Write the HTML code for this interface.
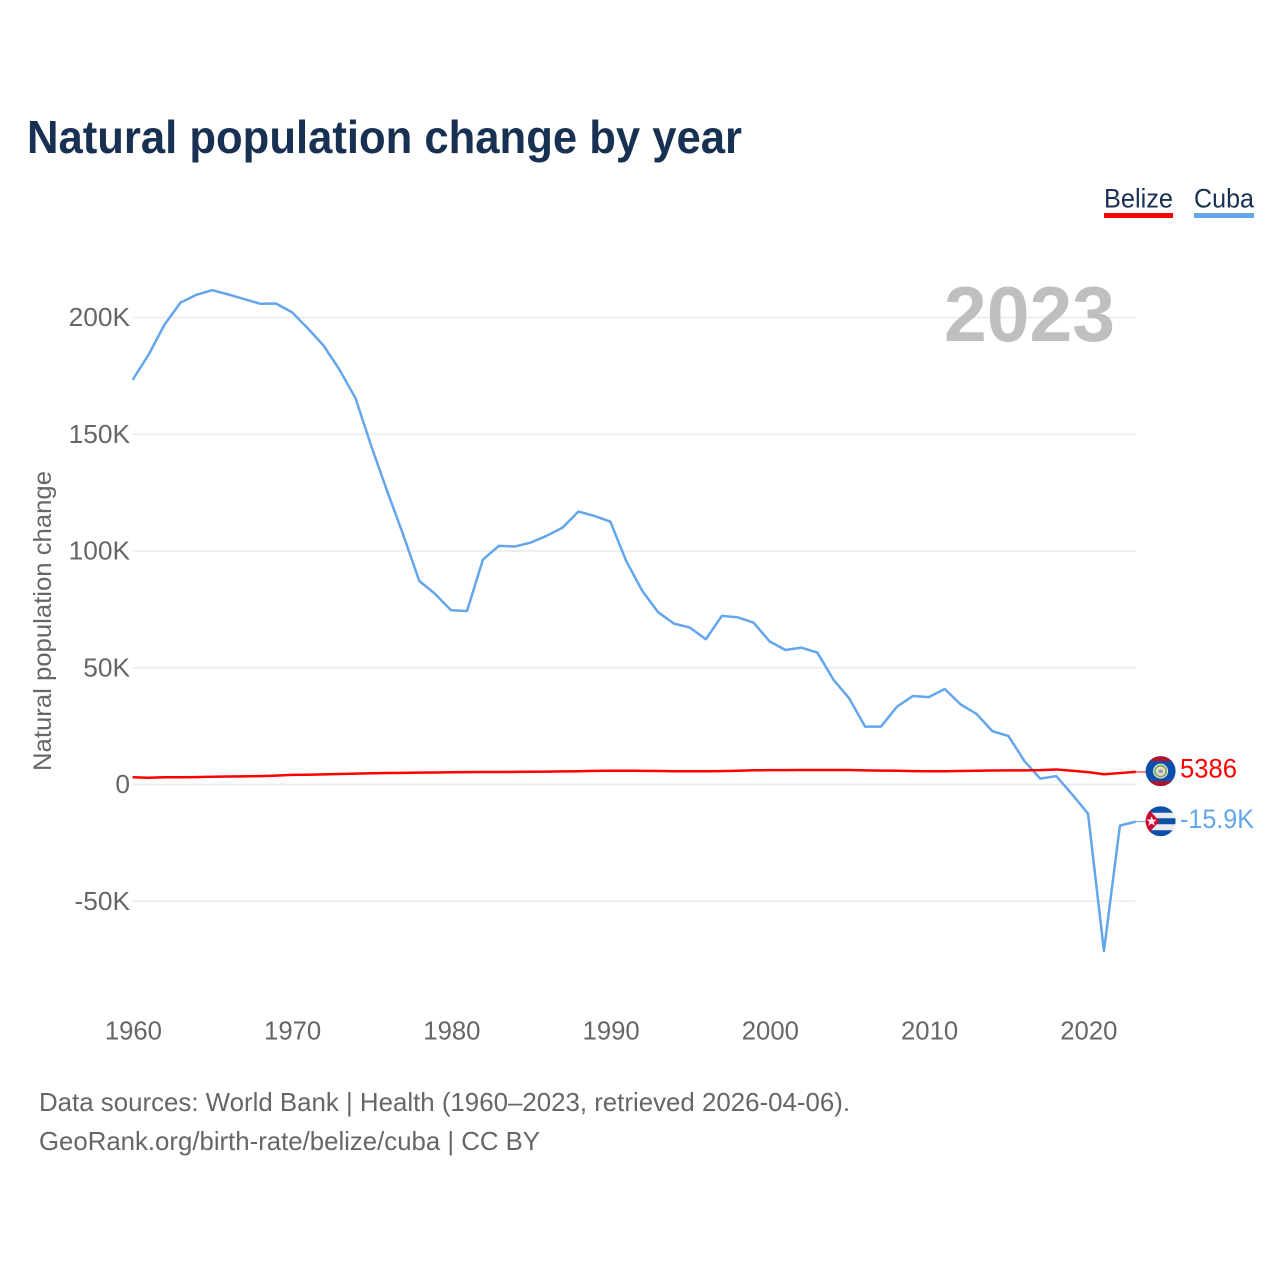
<!DOCTYPE html>
<html lang="en">
<head>
<meta charset="utf-8">
<title>Natural population change by year</title>
<style>
html,body{margin:0;padding:0;background:#fff;width:1280px;height:1280px;overflow:hidden}
svg{display:block}
text{font-family:"Liberation Sans",sans-serif}
</style>
</head>
<body>
<svg id="chart" width="1280" height="1280" viewBox="0 0 1280 1280" xmlns="http://www.w3.org/2000/svg">
  <text x="27" y="153" font-size="46" font-weight="700" fill="#183153" textLength="715" lengthAdjust="spacingAndGlyphs">Natural population change by year</text>
  <text x="1104" y="207.5" font-size="26.5" fill="#183153" textLength="69" lengthAdjust="spacingAndGlyphs">Belize</text>
  <rect x="1104" y="213" width="69" height="5" fill="#ff0000"/>
  <text x="1194" y="207.5" font-size="26.5" fill="#183153" textLength="60" lengthAdjust="spacingAndGlyphs">Cuba</text>
  <rect x="1194" y="213" width="60" height="5" fill="#63a6ec"/>
  <text transform="translate(51,771) rotate(-90)" font-size="25" fill="#666666" textLength="300" lengthAdjust="spacingAndGlyphs">Natural population change</text>
  <g id="grid"></g>
  <g id="yticks"></g>
  <g id="xticks"></g>
  <text x="1115" y="341" text-anchor="end" font-size="78" font-weight="700" fill="#bfbfbf" textLength="171" lengthAdjust="spacingAndGlyphs">2023</text>
  <g id="series"></g>
  <g id="flag-belize">
    <clipPath id="clip-belize"><circle cx="0" cy="0" r="15"/></clipPath>
    <g clip-path="url(#clip-belize)">
      <rect x="-15" y="-15" width="30" height="30" fill="#0a50a8"/>
      <rect x="-15" y="-15" width="30" height="5" fill="#b0132f"/>
      <rect x="-15" y="10" width="30" height="5" fill="#b0132f"/>
    </g>
    <circle cx="0" cy="0" r="7.5" fill="#e8e8e0"/>
    <circle cx="0" cy="0" r="5.5" fill="none" stroke="#7fa65a" stroke-width="1.8"/>
    <circle cx="0" cy="0" r="3" fill="#e8c9a0"/>
    <rect x="-2" y="-1" width="4" height="2.4" fill="#6f9bc9"/>
  </g>
  <g id="flag-cuba">
    <clipPath id="clip-cuba"><circle cx="0" cy="0" r="15"/></clipPath>
    <g clip-path="url(#clip-cuba)">
      <rect x="-15" y="-15" width="30" height="30" fill="#e9e9ee"/>
      <rect x="-15" y="-15" width="30" height="6.5" fill="#0a50a8"/>
      <rect x="-15" y="-3" width="30" height="6" fill="#0a50a8"/>
      <rect x="-15" y="9" width="30" height="6" fill="#0a50a8"/>
      <polygon points="-15,-15 -15,15 -1,0" fill="#d0062f"/>
      <polygon points="-9,-5 -7.6,-1.6 -4,-1.6 -6.8,0.8 -5.8,4.4 -9,2.4 -12.2,4.4 -11.2,0.8 -14,-1.6 -10.4,-1.6" fill="#f2f2f2"/>
    </g>
  </g>
  <text id="value-belize" x="1180" font-size="26.5" fill="#ff0000" textLength="57" lengthAdjust="spacingAndGlyphs">5386</text>
  <text id="value-cuba" x="1180" font-size="26.5" fill="#63a6ec" textLength="74" lengthAdjust="spacingAndGlyphs">-15.9K</text>
  <text x="39" y="1111" font-size="26" fill="#666666" textLength="811" lengthAdjust="spacingAndGlyphs">Data sources: World Bank | Health (1960–2023, retrieved 2026-04-06).</text>
  <text x="39" y="1150" font-size="26" fill="#666666" textLength="501" lengthAdjust="spacingAndGlyphs">GeoRank.org/birth-rate/belize/cuba | CC BY</text>
</svg>
<script>
const years = [1960,1961,1962,1963,1964,1965,1966,1967,1968,1969,1970,1971,1972,1973,1974,1975,1976,1977,1978,1979,1980,1981,1982,1983,1984,1985,1986,1987,1988,1989,1990,1991,1992,1993,1994,1995,1996,1997,1998,1999,2000,2001,2002,2003,2004,2005,2006,2007,2008,2009,2010,2011,2012,2013,2014,2015,2016,2017,2018,2019,2020,2021,2022,2023];
const cubaValues = [173300,184000,196900,206300,209700,211700,209900,207900,205900,206000,202300,195400,187900,177600,165400,144700,125400,106900,87200,81600,74600,74300,96300,102200,101900,103600,106500,110000,116900,115000,112600,95700,83000,73800,68900,67200,62200,72200,71600,69300,61300,57600,58600,56500,45000,36900,24800,24800,33300,37900,37400,40900,34300,30200,22800,20800,10100,2500,3600,-4200,-12500,-71300,-17600,-15900];
const belizeValues = [3100,2900,3100,3100,3150,3300,3400,3500,3600,3800,4100,4200,4350,4500,4650,4800,4900,5000,5100,5150,5250,5300,5350,5350,5400,5450,5500,5600,5700,5850,5900,5900,5850,5800,5650,5650,5650,5750,5900,6100,6150,6150,6200,6200,6200,6200,6050,5950,5900,5750,5650,5700,5800,5900,6000,6050,6050,6150,6450,5900,5300,4400,4900,5386];
const yTickValues = [-50000,0,50000,100000,150000,200000];
const yTickLabels = ['-50K','0','50K','100K','150K','200K'];
const xTickYears = [1960,1970,1980,1990,2000,2010,2020];

const NS = 'http://www.w3.org/2000/svg';
function xScale(year){ return 132.6 + (year - 1960) * (1135.8 - 132.6) / (2023 - 1960); }
function yScale(v){ return 784.5 - v * (467 / 200000); }

const grid = document.getElementById('grid');
const yticks = document.getElementById('yticks');
const xticks = document.getElementById('xticks');
const series = document.getElementById('series');

yTickValues.forEach(function(v, i){
  const ln = document.createElementNS(NS, 'line');
  
  
  ln.setAttribute('x1', xScale(1960));
  ln.setAttribute('x2', xScale(2023));
  ln.setAttribute('y1', yScale(v));
  ln.setAttribute('y2', yScale(v));
  ln.setAttribute('stroke', '#ececec');
  ln.setAttribute('stroke-width', '1.8');
  grid.appendChild(ln);
  const t = document.createElementNS(NS, 'text');
  
  
  t.setAttribute('x', 130);
  t.setAttribute('y', yScale(v) + 8.5);
  t.setAttribute('text-anchor', 'end');
  t.setAttribute('font-size', '26.3');
  t.setAttribute('fill', '#666666');
  t.textContent = yTickLabels[i];
  yticks.appendChild(t);
});

xTickYears.forEach(function(y){
  const t = document.createElementNS(NS, 'text');
  
  
  t.setAttribute('x', xScale(y) + 0.8);
  t.setAttribute('y', 1039.5);
  t.setAttribute('text-anchor', 'middle');
  t.setAttribute('font-size', '25.7');
  t.setAttribute('fill', '#666666');
  t.textContent = y;
  xticks.appendChild(t);
});

function pathFor(values){
  return values.map(function(v, i){
    return (i ? 'L' : 'M') + xScale(years[i]).toFixed(2) + ' ' + yScale(v).toFixed(2);
  }).join(' ');
}

function drawLine(values, color, name){
  const p = document.createElementNS(NS, 'path');
  
  
  p.setAttribute('d', pathFor(values));
  p.setAttribute('fill', 'none');
  p.setAttribute('stroke', color);
  p.setAttribute('stroke-width', '2.5');
  p.setAttribute('stroke-linejoin', 'round');
  series.appendChild(p);
  const last = yScale(values[values.length - 1]);
  const l = document.createElementNS(NS, 'line');
  
  
  l.setAttribute('x1', xScale(2023));
  l.setAttribute('x2', 1147);
  l.setAttribute('y1', last);
  l.setAttribute('y2', last);
  l.setAttribute('stroke', color);
  l.setAttribute('stroke-width', '1');
  series.appendChild(l);
  return last;
}

const cubaEnd = drawLine(cubaValues, '#63a6ec', 'cuba-line');
const belizeEnd = drawLine(belizeValues, '#ff0000', 'belize-line');

document.getElementById('flag-belize').setAttribute('transform', 'translate(1160.6,' + (belizeEnd - 0.8) + ')');
document.getElementById('flag-cuba').setAttribute('transform', 'translate(1160.6,' + (cubaEnd - 0.4) + ')');
document.getElementById('value-belize').setAttribute('y', belizeEnd + 5.5);
document.getElementById('value-cuba').setAttribute('y', cubaEnd + 6.5);
</script>
</body>
</html>
